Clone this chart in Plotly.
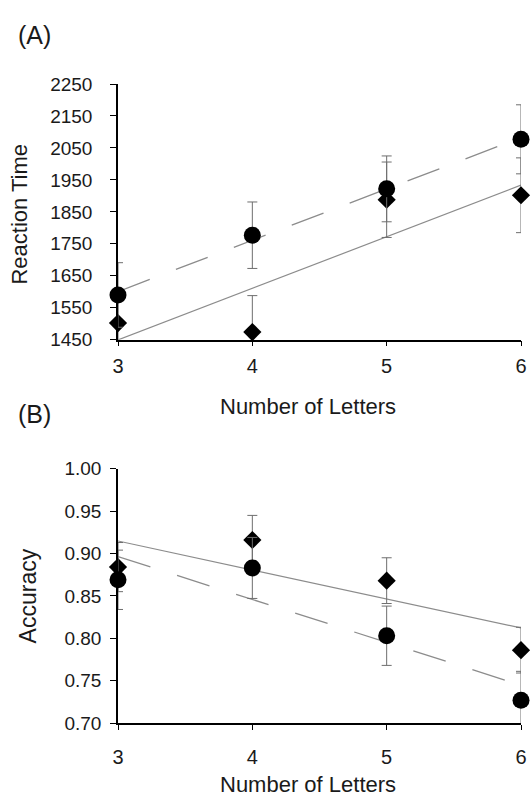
import numpy as np
import plotly.graph_objects as go

# ---------------- data ----------------
letters = [3, 4, 5, 6]

# Panel A: reaction time
rt_circle = [1590, 1777, 1922, 2077]
rt_circle_err = [101, 104, 103, 108]
rt_diamond = [1502, 1474, 1888, 1902]
rt_diamond_err = [100, 114, 118, 117]

# Panel B: accuracy
acc_circle = [0.869, 0.883, 0.803, 0.727]
acc_circle_err = [0.035, 0.036, 0.035, 0.034]
acc_diamond = [0.884, 0.916, 0.868, 0.786]
acc_diamond_err = [0.029, 0.029, 0.027, 0.027]

rt_ticks = [1450, 1550, 1650, 1750, 1850, 1950, 2050, 2150, 2250]
acc_ticks = [0.70, 0.75, 0.80, 0.85, 0.90, 0.95, 1.00]

FONT = "Liberation Sans, Arial, Helvetica, sans-serif"
TXT = "#1a1a1a"
LINE_GREY = "#8c8c8c"
ERR_GREY = "#6e6e6e"

W, H = 531, 810
L, R = 118, 10


def px_x(p):
    return (p - L) / (W - L - R)


def px_y(p):
    return (H - p) / H


fig = go.Figure()


def fit_line(x, y):
    k, b = np.polyfit(np.array(x, float), np.array(y, float), 1)
    xs = np.array([min(x), max(x)], float)
    return xs, k * xs + b


def add_panel(xa, ya, yc, yce, yd, yde):
    xs, ys = fit_line(letters, yd)
    fig.add_trace(go.Scatter(x=xs, y=ys, mode="lines", xaxis=xa, yaxis=ya,
                             line=dict(color=LINE_GREY, width=1.2),
                             showlegend=False, hoverinfo="skip"))
    xs, ys = fit_line(letters, yc)
    fig.add_trace(go.Scatter(x=xs, y=ys, mode="lines", xaxis=xa, yaxis=ya,
                             line=dict(color=LINE_GREY, width=1.3, dash="34px,28px"),
                             showlegend=False, hoverinfo="skip"))
    fig.add_trace(go.Scatter(x=letters, y=yd, mode="markers", xaxis=xa, yaxis=ya,
                             marker=dict(symbol="diamond", size=14, color="black"),
                             error_y=dict(type="data", array=yde, color=ERR_GREY,
                                          thickness=1, width=5),
                             cliponaxis=False, showlegend=False))
    fig.add_trace(go.Scatter(x=letters, y=yc, mode="markers", xaxis=xa, yaxis=ya,
                             marker=dict(symbol="circle", size=17, color="black"),
                             error_y=dict(type="data", array=yce, color=ERR_GREY,
                                          thickness=1, width=5),
                             cliponaxis=False, showlegend=False))


add_panel("x", "y", rt_circle, rt_circle_err, rt_diamond, rt_diamond_err)
add_panel("x2", "y2", acc_circle, acc_circle_err, acc_diamond, acc_diamond_err)

xaxis_common = dict(range=[3, 6], tickvals=letters, showline=True, linecolor="black",
                    linewidth=1.5, ticks="outside", ticklen=5, tickwidth=1.2,
                    tickcolor="black", showgrid=False, zeroline=False,
                    tickfont=dict(family=FONT, size=20, color=TXT))

yaxis_common = dict(showline=True, linecolor="black", linewidth=1.5,
                    ticks="outside", ticklen=6, tickwidth=1.2, tickcolor="black",
                    showgrid=False, zeroline=False,
                    tickfont=dict(family=FONT, size=19, color=TXT))

fig.update_layout(
    width=W, height=H,
    margin=dict(l=L, r=R, t=0, b=0),
    paper_bgcolor="white", plot_bgcolor="white",
    font=dict(family=FONT, color=TXT),
    xaxis=dict(domain=[0, 1], anchor="y", ticklabelstandoff=3, **xaxis_common),
    xaxis2=dict(domain=[0, 1], anchor="y2", ticklabelstandoff=10, **xaxis_common),
    yaxis=dict(domain=[px_y(338.5), px_y(76)], anchor="x", range=[1450, 2250],
               tickvals=rt_ticks, ticklabelstandoff=14, **yaxis_common),
    yaxis2=dict(domain=[px_y(732), px_y(471)], anchor="x2", range=[0.70, 1.00],
                tickvals=acc_ticks, tickformat=".2f", ticklabelstandoff=5,
                **yaxis_common),
)

ann = []
ann.append(dict(text="(A)", x=px_x(34), y=px_y(26), font=dict(size=25)))
ann.append(dict(text="(B)", x=px_x(34), y=px_y(415), font=dict(size=25)))
ann.append(dict(text="Reaction Time", x=px_x(20), y=px_y(210), textangle=-90,
                font=dict(size=22)))
ann.append(dict(text="Accuracy", x=px_x(28), y=px_y(602), textangle=-90,
                font=dict(size=23)))
ann.append(dict(text="Number of Letters", x=px_x(308), y=px_y(407), font=dict(size=22)))
ann.append(dict(text="Number of Letters", x=px_x(308), y=0, font=dict(size=22),
                yanchor="bottom"))
for a in ann:
    a.setdefault("yanchor", "middle")
    a.update(xref="paper", yref="paper", xanchor="center", showarrow=False)
    a["font"].update(family=FONT, color=TXT)
fig.update_layout(annotations=ann)

fig.write_html(
    "out.html",
    config={"displayModeBar": False},
    post_script="document.body.style.margin='0';"
                "document.documentElement.style.overflow='hidden';"
                "document.body.style.overflow='hidden';",
)
